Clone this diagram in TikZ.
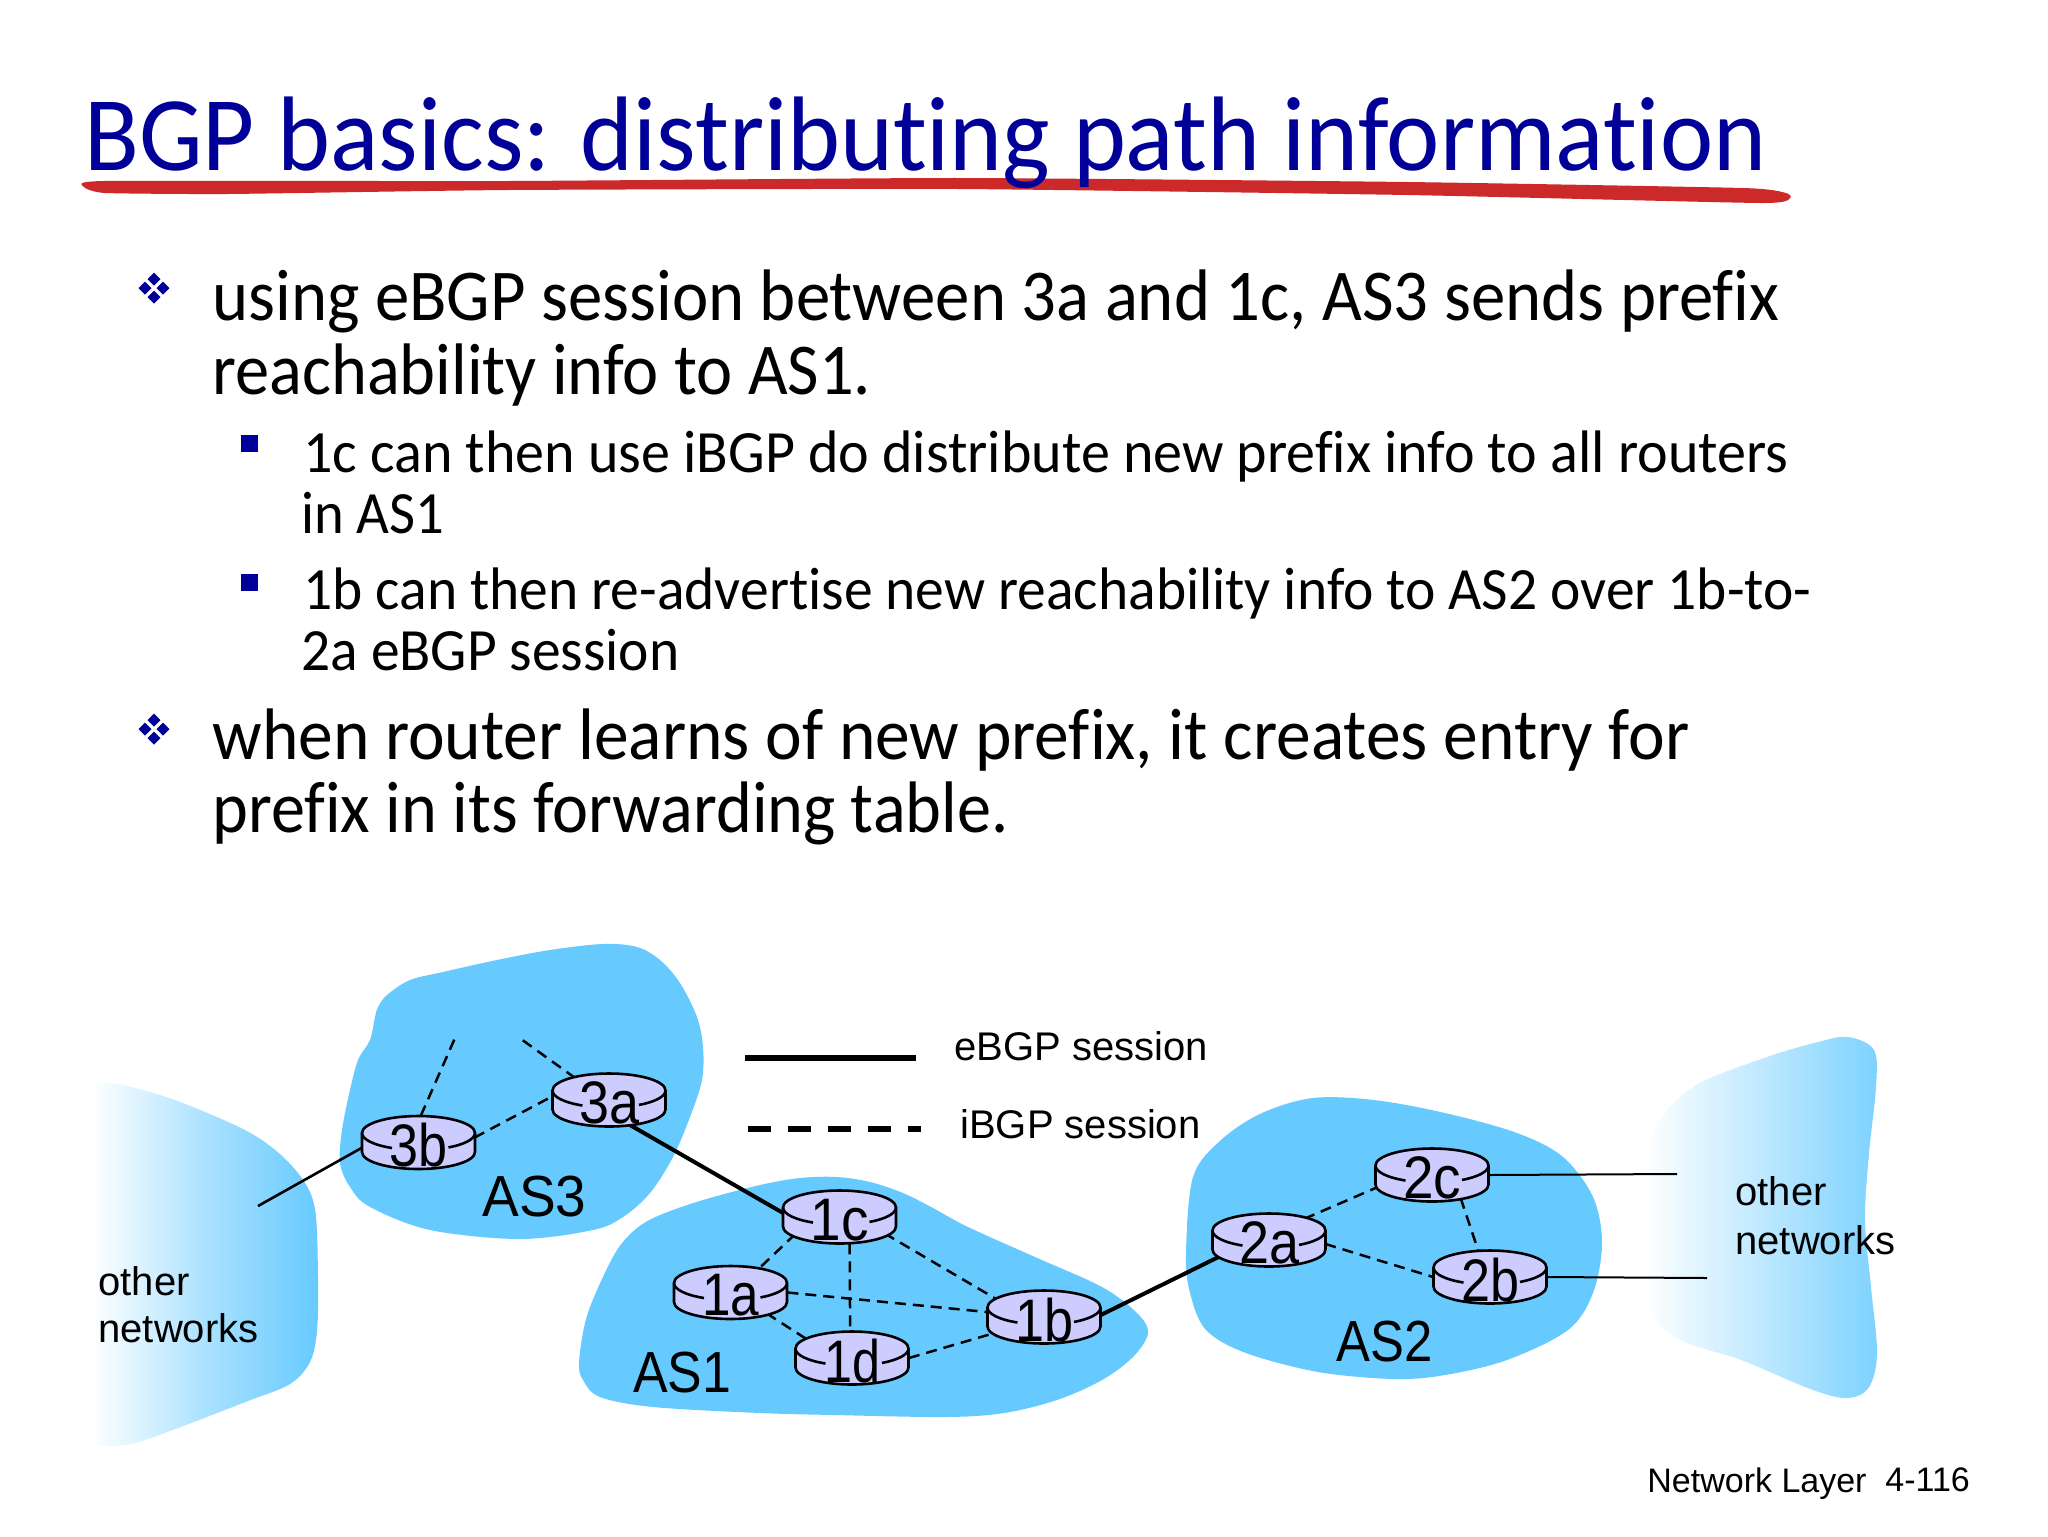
\documentclass[tikz,border=0pt]{standalone}
\usepackage{fontspec}
\usepackage{graphicx}
\usetikzlibrary{backgrounds,shapes.geometric}
\setmainfont[Ligatures=NoCommon]{Carlito}
\newfontfamily\arialf{Liberation Sans}
\definecolor{asblue}{HTML}{66CAFF}
\definecolor{navy}{HTML}{000099}
\definecolor{redline}{HTML}{CC2A2A}
\definecolor{routerfill}{HTML}{CCCCFF}
\newcommand{\fitw}[2]{\resizebox{\dimexpr #1pt/2\relax}{\height}{#2}}
\newcommand{\router}[4]{%
  \begin{scope}[shift={(#2,#3)}]
    \draw[routerline,fill=routerfill] (-56.5,-9.5) -- (-56.5,9.5) arc[start angle=180,end angle=0,x radius=56.5,y radius=17] -- (56.5,-9.5) arc[start angle=0,end angle=-180,x radius=56.5,y radius=17] -- cycle;
    \draw[routerline] (-56.5,-9.5) arc[start angle=180,end angle=118,x radius=56.5,y radius=17];
    \draw[routerline] (56.5,-9.5) arc[start angle=0,end angle=58,x radius=56.5,y radius=17];
  \end{scope}
  \node[routernode] (#1) at (#2,#3) {};
  \node[routerlabel] (#1t) at (#2,#3+3) {\fitw{#4}{#1}};
}
\newcommand{\diamondbullet}[3]{%
  \begin{scope}[shift={(#1,#2)}]
    \fill[navy] (0,-15.5) -- (6.5,-9) -- (0,-2.5) -- (-6.5,-9) -- cycle;
    \fill[navy] (0,15.5) -- (6.5,9) -- (0,2.5) -- (-6.5,9) -- cycle;
    \fill[navy] (-15.5,0) -- (-9,6.5) -- (-2.5,0) -- (-9,-6.5) -- cycle;
    \fill[navy] (15.5,0) -- (9,6.5) -- (2.5,0) -- (9,-6.5) -- cycle;
  \end{scope}
}
\tikzset{
  x=0.5pt,y=-0.5pt,
  routerline/.style={draw=black,line width=1.3pt},
  routernode/.style={ellipse,minimum width=56.5pt,minimum height=26.5pt,inner sep=0pt,draw=none},
  routerlabel/.style={inner sep=0pt,font=\arialf\fontsize{30}{30}\selectfont,text=black},
  txt/.style={anchor=base west,inner sep=0pt,text=black},
  titletxt/.style={txt,text=navy,font=\fontsize{53}{53}\selectfont},
  lvlone/.style={txt,font=\fontsize{36.5}{36.5}\selectfont},
  lvltwo/.style={txt,font=\fontsize{30}{30}\selectfont},
  arial/.style={txt,font=\arialf\fontsize{20}{20}\selectfont},
  asname/.style={txt,font=\arialf\fontsize{29}{29}\selectfont},
  footer/.style={txt,font=\arialf\fontsize{17}{17}\selectfont},
  ebgp/.style={draw=black,line width=2pt},
  ibgp/.style={draw=black,line width=1.25pt,dash pattern=on 5.5pt off 3.5pt},
  stub/.style={draw=black,line width=1pt},
  blob/.style={fill=asblue,draw=none},
}
\begin{document}
\begin{tikzpicture}
\useasboundingbox (0,0) rectangle (2048,1536);
% red underline
\fill[redline] plot[smooth cycle,tension=0.3] coordinates {(84,187) (105,181) (509,181) (958,178) (1407,182) (1743,188) (1786,193) (1790,198) (1760,203) (1407,195) (958,189) (509,190) (228,194) (105,193)};
% title and bullets
\node[titletxt] (title) at (84,170) {\fitw{1682}{BGP basics: distributing path information}};
\diamondbullet{154}{288}{}
\node[lvlone] (l1) at (212,320) {\fitw{1567}{using eBGP session between 3a and 1c, AS3 sends prefix}};
\node[lvlone] (l2) at (212,394) {\fitw{659}{reachability info to AS1.}};
\fill[navy] (241,435) rectangle (258,452);
\node[lvltwo] (s1) at (303,472) {\fitw{1485}{1c can then use iBGP do distribute new prefix info to all routers}};
\node[lvltwo] (s2) at (301,533) {\fitw{143}{in AS1}};
\fill[navy] (241,574) rectangle (258,591);
\node[lvltwo] (s3) at (303,609) {\fitw{1508}{1b can then re-advertise new reachability info to AS2 over 1b-to-}};
\node[lvltwo] (s4) at (301,670) {\fitw{378}{2a eBGP session}};
\diamondbullet{154}{729}{}
\node[lvlone] (l3) at (212,759) {\fitw{1477}{when router learns of new prefix, it creates entry for}};
\node[lvlone] (l4) at (212,832) {\fitw{796}{prefix in its forwarding table.}};
% clouds
\begin{scope}[on background layer]
  \fill[white] (0,0) rectangle (2048,1536);
  \shade[left color=white,right color=asblue,middle color=asblue!55!white]
    plot[smooth,tension=0.55] coordinates {(91,1084) (118,1084) (172,1099) (239,1127) (274,1149) (301,1177) (315,1209) (318,1277) (317,1331) (310,1362) (290,1384) (248,1401) (170,1431) (131,1444) (100,1446) (91,1445)} -- cycle;
  \shade[left color=white,right color=asblue!85!white,middle color=asblue!42!white]
    plot[smooth cycle,tension=0.55] coordinates {(1848,1037) (1874,1050) (1876,1087) (1869,1153) (1865,1220) (1871,1287) (1877,1353) (1869,1387) (1848,1398) (1813,1390) (1741,1360) (1680,1340) (1652,1313) (1644,1253) (1649,1153) (1665,1113) (1700,1083) (1767,1057) (1818,1042)};
  \fill[blob] plot[smooth cycle,tension=0.55] coordinates {(378,1007) (387,995) (410,980) (443,972) (497,960) (550,950) (603,944) (637,947) (660,960) (680,983) (697,1017) (703,1047) (702,1080) (690,1117) (673,1157) (650,1193) (623,1217) (593,1230) (520,1239) (430,1230) (370,1207) (350,1187) (340,1163) (342,1130) (350,1090) (358,1060) (370,1040) (375,1017)};
  \fill[blob] plot[smooth cycle,tension=0.55] coordinates {(579,1363) (583,1380) (600,1397) (653,1407) (760,1413) (834,1415) (946,1417) (1004,1413) (1057,1400) (1102,1380) (1133,1357) (1148,1333) (1137,1313) (1102,1287) (1035,1257) (968,1227) (933,1208) (903,1193) (870,1182) (837,1177) (800,1178) (760,1185) (703,1200) (660,1215) (637,1228) (617,1250) (597,1290) (585,1323)};
  \fill[blob] plot[smooth cycle,tension=0.55] coordinates {(1193,1177) (1221,1140) (1262,1113) (1313,1098) (1374,1100) (1445,1113) (1517,1133) (1563,1157) (1593,1197) (1602,1243) (1593,1293) (1568,1330) (1507,1360) (1445,1375) (1394,1379) (1318,1372) (1246,1353) (1206,1330) (1190,1293) (1186,1253)};
\end{scope}
% routers
\router{3b}{418.5}{1142.5}{58}
\router{3a}{609}{1100}{60}
\router{1c}{839.5}{1217}{58}
\router{1a}{730.5}{1292.5}{57}
\router{1b}{1044}{1317}{58}
\router{1d}{852}{1358}{56}
\router{2a}{1269}{1240}{60}
\router{2c}{1432}{1175}{58}
\router{2b}{1490}{1277}{58}
% free ends
\coordinate (f3b) at (455,1038);
\coordinate (f3a) at (521,1039);
\coordinate (fother) at (258,1206);
\coordinate (f2c) at (1677,1174);
\coordinate (f2b) at (1707,1278);
\coordinate (ls1) at (745,1058);
\coordinate (ls2) at (916,1058);
\coordinate (ld1) at (748,1129);
\coordinate (ld2) at (921,1129);
% connectors
\begin{scope}[on background layer]
  \draw[ebgp] (3a.-50) -- (1c.176);
  \draw[ebgp] (1b.2) -- (2a.198);
  \draw[stub,line width=1.3pt] (3b.185) -- (fother);
  \draw[ibgp] (3b.85) -- (f3b);
  \draw[ibgp] (3b.5) -- (3a.176);
  \draw[ibgp] (3a.147) -- (f3a);
  \draw[ibgp] (1c.201) -- (1a.40);
  \draw[ibgp] (1c.-69) -- (1d.94);
  \draw[ibgp] (1c.-20) -- (1b.160);
  \draw[ibgp] (1a.0) -- (1b.175);
  \draw[ibgp] (1a.-30) -- (1d.158);
  \draw[ibgp] (1d.0) -- (1b.198);
  \draw[ibgp] (2a.31) -- (2c.192);
  \draw[ibgp] (2a.-4) -- (2b.180);
  \draw[ibgp] (2c.-39) -- (2b.114);
  \draw[stub] (2c.0) -- (f2c);
  \draw[stub] (2b.0) -- (f2b);
\end{scope}
% legend
\draw[draw=black,line width=3pt] (ls1) -- (ls2);
\draw[draw=black,line width=3pt,dash pattern=on 11.5pt off 8.5pt] (ld1) -- (ld2);
\node[arial] (leg1) at (954,1060) {eBGP session};
\node[arial] (leg2) at (960,1138) {iBGP session};
% labels
\node[asname] (as3) at (482,1216) {\fitw{104}{AS3}};
\node[asname] (as1) at (633,1392) {\fitw{98}{AS1}};
\node[asname] (as2) at (1336,1361) {\fitw{96}{AS2}};
\node[arial] (o1) at (98,1295) {other};
\node[arial] (o2) at (98,1342) {networks};
\node[arial] (o3) at (1735,1205) {other};
\node[arial] (o4) at (1735,1254) {networks};
\node[footer] (foot1) at (1647,1492) {Network Layer};
\node[footer] (foot2) at (1885,1491) {4-116};
\end{tikzpicture}
\end{document}
